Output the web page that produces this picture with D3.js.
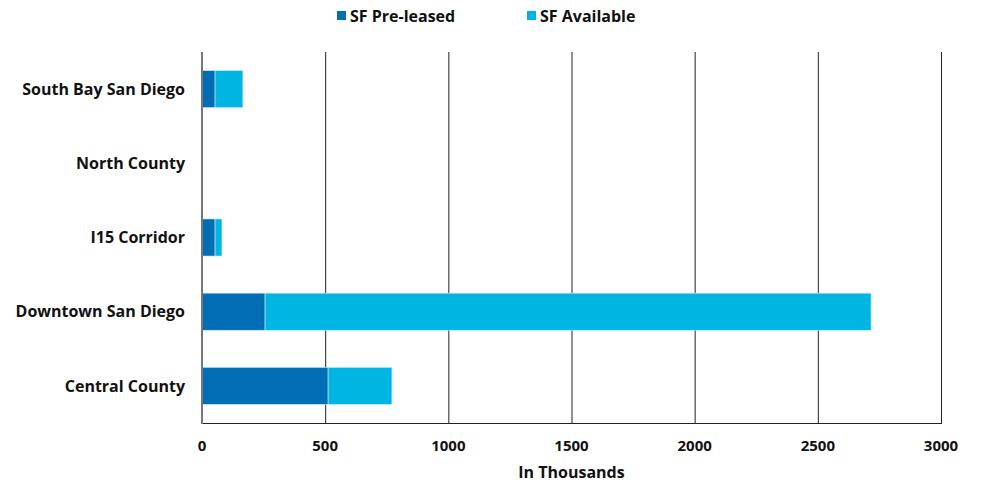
<!DOCTYPE html>
<html>
<head>
<meta charset="utf-8">
<script src="https://cdn.jsdelivr.net/npm/d3@7"></script>
<style>
  body { margin: 0; background: #fff; }
  text { font-family: "Open Sans", sans-serif; font-weight: bold; fill: #111; }
</style>
</head>
<body>
<div id="chart"></div>
<script>
const width = 981
const height = 483

// data (in thousands of SF)
const regions = ["South Bay San Diego", "North County", "I15 Corridor", "Downtown San Diego", "Central County"]
const preLeased = [53, 0, 53, 256, 512]
const available = [113, 0, 28, 2460, 259]
const seriesNames = ["SF Pre-leased", "SF Available"]
const colors = ["#006db5", "#00b5e2"]
const xTicks = [0, 500, 1000, 1500, 2000, 2500, 3000]

const margin = {top: 52, right: 40, bottom: 60, left: 202}

const svg = d3.select("#chart").append("svg")
    .attr("width", width)
    .attr("height", height)

const x = d3.scaleLinear()
    .domain([0, 3000])
    .range([margin.left, width - margin.right])

const y = d3.scaleBand()
    .domain(regions)
    .range([margin.top, height - margin.bottom])
    .paddingInner(0.5)
    .paddingOuter(0.25)

// vertical gridlines
svg.append("g")
    .selectAll("line")
    .data(xTicks.slice(1))
    .enter().append("line")
    .attr("x1", d => x(d) + 0.5)
    .attr("x2", d => x(d) + 0.5)
    .attr("y1", margin.top)
    .attr("y2", height - margin.bottom)
    .attr("stroke", "#222")
    .attr("stroke-width", 1)

// bottom border
svg.append("line")
    .attr("x1", margin.left)
    .attr("x2", x(3000) + 1)
    .attr("y1", height - margin.bottom + 0.5)
    .attr("y2", height - margin.bottom + 0.5)
    .attr("stroke", "#222")

const stackData = regions.map((r, i) => ({region: r, pre: preLeased[i], avail: available[i]}))
const stack = d3.stack().keys(["pre", "avail"])(stackData)

svg.append("g")
    .selectAll("g")
    .data(stack)
    .enter().append("g")
    .attr("fill", (d, i) => colors[i])
    .selectAll("rect")
    .data(d => d)
    .enter().append("rect")
    .attr("x", d => x(d[0]))
    .attr("y", d => y(d.data.region))
    .attr("width", d => x(d[1]) - x(d[0]))
    .attr("height", y.bandwidth())
    .attr("stroke", d => (d[1] - d[0]) > 0 ? "#cdeefa" : "none")
    .attr("stroke-width", 0.6)

// left axis line
svg.append("line")
    .attr("x1", margin.left)
    .attr("x2", margin.left)
    .attr("y1", margin.top)
    .attr("y2", height - margin.bottom + 1)
    .attr("stroke", "#777")
    .attr("stroke-width", 2)

// category labels
svg.append("g")
    .selectAll("text")
    .data(regions)
    .enter().append("text")
    .attr("x", margin.left - 17)
    .attr("y", d => y(d) + y.bandwidth() / 2)
    .attr("dy", "0.35em")
    .attr("text-anchor", "end")
    .style("font-size", "16px")
    .text(d => d)

// x tick labels
svg.append("g")
    .selectAll("text")
    .data(xTicks)
    .enter().append("text")
    .attr("x", d => x(d))
    .attr("y", 446)
    .attr("dy", "0.35em")
    .attr("text-anchor", "middle")
    .style("font-size", "15px")
    .text(d => d)

svg.append("text")
    .attr("x", (margin.left + x(3000)) / 2)
    .attr("y", 472)
    .attr("dy", "0.35em")
    .attr("text-anchor", "middle")
    .style("font-size", "16px")
    .text("In Thousands")

// legend
const legendX = [337, 527]
const legend = svg.append("g")
    .selectAll("g")
    .data(seriesNames)
    .enter().append("g")
    .attr("transform", (d, i) => `translate(${legendX[i]},11)`)

legend.append("rect")
    .attr("width", 9)
    .attr("height", 9)
    .attr("fill", (d, i) => colors[i])

legend.append("text")
    .attr("x", 13)
    .attr("y", 5)
    .attr("dy", "0.35em")
    .style("font-size", "16px")
    .text(d => d)
</script>
</body>
</html>
